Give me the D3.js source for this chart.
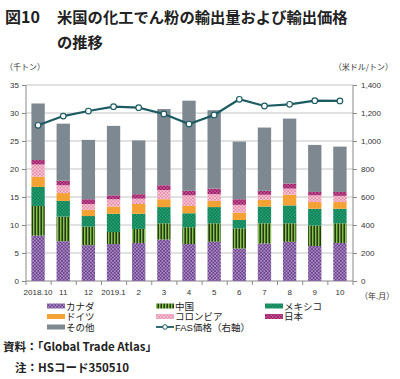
<!DOCTYPE html>
<html lang="ja">
<head>
<meta charset="UTF-8">
<script src="https://d3js.org/d3.v7.min.js"></script>
<style>
  body { margin: 0; background: #fff; }
  svg { display: block; font-family: "Liberation Sans", "Noto Sans CJK JP", sans-serif; }
  .jp { font-family: "Noto Sans CJK JP", sans-serif; }
  .lg { font-family: "Liberation Sans", "Noto Sans CJK JP", sans-serif; }
</style>
</head>
<body>
<svg id="chart" width="400" height="379"></svg>
<script>
const months = ["2018.10","11","12","2019.1","2","3","4","5","6","7","8","9","10"];
const canada   = [8.1, 7.1, 6.4, 6.6, 6.8, 7.4, 6.6, 7.0, 5.8, 6.7, 7.0, 6.25, 6.8];
const china    = [5.3, 4.4, 3.3, 2.15, 2.5, 2.9, 3.0, 3.3, 3.6, 3.6, 3.3, 3.65, 3.5];
const mexico   = [3.4, 2.8, 1.9, 3.25, 2.7, 2.9, 2.5, 2.9, 1.5, 3.0, 3.2, 3.0, 2.6];
const germany  = [1.8, 1.4, 1.1, 1.3, 1.75, 1.4, 1.3, 1.1, 1.3, 1.2, 1.9, 1.2, 1.2];
const colombia = [2.2, 1.4, 1.05, 1.3, 0.95, 1.65, 1.9, 1.2, 1.4, 0.9, 1.1, 1.2, 1.1];
const japan    = [0.8, 0.8, 0.85, 0.7, 0.8, 0.85, 0.8, 1.0, 1.0, 0.7, 0.9, 0.6, 0.7];
const others   = [10.1, 10.2, 10.6, 12.4, 9.6, 13.6, 16.1, 14.0, 10.3, 11.3, 11.6, 8.4, 8.1];
const fasPrice = [1112, 1178, 1214, 1245, 1238, 1193, 1121, 1186, 1298, 1250, 1262, 1288, 1286];
const leftTicks = [0, 5, 10, 15, 20, 25, 30, 35];
const rightTicks = [0, 200, 400, 600, 800, 1000, 1200, 1400];

const seriesKeys = ["canada","china","mexico","germany","colombia","japan","others"];
const seriesData = [canada, china, mexico, germany, colombia, japan, others];

const svg = d3.select("#chart");
const defs = svg.append("defs");

// fill patterns
function dots(id, bg, fg, size, r) {
  const p = defs.append("pattern").attr("id", id).attr("patternUnits", "userSpaceOnUse")
    .attr("width", size).attr("height", size);
  p.append("rect").attr("width", size).attr("height", size).attr("fill", bg);
  p.append("circle").attr("cx", size / 4).attr("cy", size / 4).attr("r", r).attr("fill", fg);
  p.append("circle").attr("cx", size * 3 / 4).attr("cy", size * 3 / 4).attr("r", r).attr("fill", fg);
}
dots("pCanada", "#6b3f8e", "#c9b6dc", 3.4, 0.75);
dots("pMexico", "#0c8459", "#4fb588", 3.4, 0.7);
dots("pColombia", "#e88caa", "#fbe3ec", 3.4, 0.8);
dots("pJapan", "#9b1b68", "#d473a8", 3.4, 0.75);
const st = defs.append("pattern").attr("id", "pChina").attr("patternUnits", "userSpaceOnUse")
  .attr("width", 3).attr("height", 3);
st.append("rect").attr("width", 3).attr("height", 3).attr("fill", "#86c44a");
st.append("rect").attr("x", 1.5).attr("width", 1.4).attr("height", 3).attr("fill", "#1a2a10");

const fills = {
  canada: "url(#pCanada)", china: "url(#pChina)", mexico: "url(#pMexico)",
  germany: "#f4a234", colombia: "url(#pColombia)", japan: "url(#pJapan)", others: "#7d8891"
};

const x = d3.scaleBand().domain(months).range([25.5, 352.5]).paddingInner(0.47).paddingOuter(0.235);
const y = d3.scaleLinear().domain([0, 35]).range([281, 85]);
const y2 = d3.scaleLinear().domain([0, 1400]).range([281, 85]);

// title
const title = svg.append("g").attr("class", "jp").attr("font-weight", "bold").attr("fill", "#222");
title.append("text").attr("x", 5).attr("y", 23).attr("font-size", 16).text("図10");
title.append("text").attr("x", 57).attr("y", 23).attr("font-size", 15.3).text("米国の化工でん粉の輸出量および輸出価格");
title.append("text").attr("x", 57).attr("y", 48).attr("font-size", 15.3).text("の推移");

// unit labels
svg.append("text").attr("class", "jp").attr("x", 5).attr("y", 70).attr("font-size", 8).attr("fill", "#333").text("（千トン）");
svg.append("text").attr("class", "jp").attr("x", 393).attr("y", 70).attr("font-size", 8).attr("fill", "#333")
  .attr("text-anchor", "end").text("（米ドル/トン）");

// grid
svg.append("g").selectAll("line").data(leftTicks.slice(1)).join("line")
  .attr("x1", 26).attr("x2", 353).attr("y1", d => y(d)).attr("y2", d => y(d))
  .attr("stroke", "#c4c4c4").attr("stroke-width", 1);

// axes
const axL = svg.append("g").attr("transform", "translate(26,0)")
  .call(d3.axisLeft(y).tickValues(leftTicks).tickSize(4).tickPadding(3));
const axR = svg.append("g").attr("transform", "translate(353,0)")
  .call(d3.axisRight(y2).tickValues(rightTicks).tickSize(4).tickPadding(4).tickFormat(d3.format(",")));
const axB = svg.append("g").attr("transform", "translate(0,281)")
  .call(d3.axisBottom(x).tickSize(0).tickPadding(8));
[axL, axR, axB].forEach(a => {
  a.select(".domain").attr("stroke", "#8a8a8a");
  a.selectAll(".tick line").attr("stroke", "#8a8a8a");
  a.selectAll("text").attr("font-size", 8).attr("fill", "#333").attr("font-family", "Liberation Sans, sans-serif");
});
axL.select(".domain").attr("d", "M0,281V85");
axR.select(".domain").attr("d", "M0,281V85");
axB.select(".domain").attr("d", "M26,0H353");
// category boundary ticks
svg.append("g").selectAll("line").data(d3.range(months.length + 1)).join("line")
  .attr("x1", i => 26 + i * x.step()).attr("x2", i => 26 + i * x.step())
  .attr("y1", 281).attr("y2", 285).attr("stroke", "#8a8a8a");

svg.append("text").attr("class", "jp").attr("x", 360).attr("y", 299).attr("font-size", 8).attr("fill", "#333").text("（年.月）");

// stacked bars
const rows = months.map((m, i) => {
  const r = { month: m };
  seriesKeys.forEach((k, j) => r[k] = seriesData[j][i]);
  return r;
});
const stacked = d3.stack().keys(seriesKeys)(rows);
svg.append("g").selectAll("g").data(stacked).join("g")
  .attr("fill", s => fills[s.key])
  .selectAll("rect").data(s => s).join("rect")
  .attr("x", d => x(d.data.month)).attr("width", x.bandwidth())
  .attr("y", d => y(d[1])).attr("height", d => y(d[0]) - y(d[1]));

// FAS price line
const line = d3.line().x((d, i) => x(months[i]) + x.bandwidth() / 2).y(d => y2(d));
svg.append("path").datum(fasPrice).attr("d", line)
  .attr("fill", "none").attr("stroke", "#1d5b62").attr("stroke-width", 2.2);
svg.append("g").selectAll("circle").data(fasPrice).join("circle")
  .attr("cx", (d, i) => x(months[i]) + x.bandwidth() / 2).attr("cy", d => y2(d)).attr("r", 2.8)
  .attr("fill", "#fff").attr("stroke", "#1d5b62").attr("stroke-width", 1.2);

// legend
const legendItems = [
  { name: "カナダ", key: "canada", col: 0, row: 0 },
  { name: "中国", key: "china", col: 1, row: 0 },
  { name: "メキシコ", key: "mexico", col: 2, row: 0 },
  { name: "ドイツ", key: "germany", col: 0, row: 1 },
  { name: "コロンビア", key: "colombia", col: 1, row: 1 },
  { name: "日本", key: "japan", col: 2, row: 1 },
  { name: "その他", key: "others", col: 0, row: 2 },
  { name: "FAS価格（右軸）", key: "fas", col: 1, row: 2 }
];
const colX = [47, 156, 265];
const lg = svg.append("g").attr("class", "lg");
legendItems.forEach(it => {
  const lx = colX[it.col], ly = 306 + it.row * 10.5;
  if (it.key === "fas") {
    lg.append("line").attr("x1", lx).attr("x2", lx + 18).attr("y1", ly).attr("y2", ly)
      .attr("stroke", "#1d5b62").attr("stroke-width", 1.8);
    lg.append("circle").attr("cx", lx + 9).attr("cy", ly).attr("r", 2.3)
      .attr("fill", "#fff").attr("stroke", "#1d5b62").attr("stroke-width", 1);
  } else {
    lg.append("rect").attr("x", lx).attr("y", ly - 2.5).attr("width", 18).attr("height", 5)
      .attr("fill", fills[it.key]);
  }
  lg.append("text").attr("x", lx + 19).attr("y", ly + 3.5).attr("font-size", 9.5).attr("fill", "#222").text(it.name);
});

// source / note
svg.append("text").attr("class", "jp").attr("x", 3).attr("y", 351).attr("font-size", 11.5)
  .attr("font-weight", "bold").attr("fill", "#222").text("資料：「Global Trade Atlas」");
svg.append("text").attr("class", "jp").attr("x", 15).attr("y", 372).attr("font-size", 11.5)
  .attr("font-weight", "bold").attr("fill", "#222").text("注：HSコード350510");
</script>
</body>
</html>
